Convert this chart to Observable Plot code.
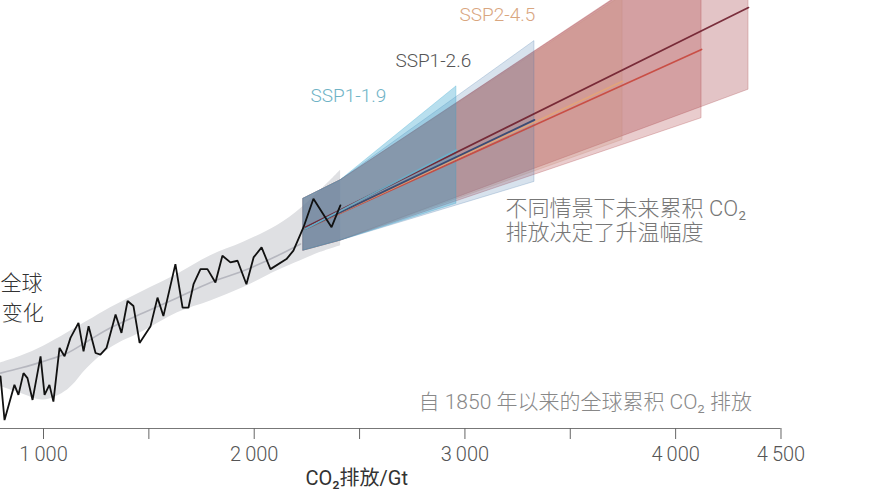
<!DOCTYPE html>
<html><head><meta charset="utf-8">
<script src="https://cdn.jsdelivr.net/npm/d3@7"></script>
<script src="https://cdn.jsdelivr.net/npm/@observablehq/plot@0.6"></script>
<style>
html,body{margin:0;padding:0;background:#fff;overflow:hidden;}
</style>
</head><body>
<div id="chart"></div>
<script>
// ---- historical annual global temperature change vs cumulative CO2 (Gt, °C)
const histX = [796, 815, 862, 881, 905, 924, 948, 986, 1005, 1028, 1047, 1076, 1100, 1128, 1166, 1190, 1214, 1247, 1270, 1299, 1342, 1370, 1399, 1427, 1456, 1508, 1541, 1569, 1626, 1660, 1688, 1712, 1745, 1778, 1816, 1849, 1887, 1921, 1963, 1997, 2035, 2077, 2153, 2186, 2234, 2281, 2367, 2409];
const histT = [0.20, -0.06, 0.15, 0.09, 0.22, 0.19, 0.06, 0.32, 0.09, 0.15, 0.05, 0.37, 0.32, 0.43, 0.52, 0.35, 0.50, 0.34, 0.33, 0.37, 0.57, 0.46, 0.65, 0.62, 0.40, 0.50, 0.67, 0.56, 0.87, 0.61, 0.61, 0.75, 0.84, 0.84, 0.76, 0.92, 0.88, 0.89, 0.75, 0.91, 0.97, 0.84, 0.90, 0.95, 1.09, 1.26, 1.09, 1.22];

// ---- historical smoothed estimate and uncertainty band
const bandX   = [796, 891, 1000, 1114, 1209, 1318, 1475, 1636, 1793, 1949, 2110, 2220, 2315, 2410];
const bandLo  = [0.14, 0.10, 0.06, 0.12, 0.25, 0.37, 0.47, 0.58, 0.65, 0.73, 0.83, 0.89, 0.94, 0.98];
const bandHi  = [0.28, 0.32, 0.38, 0.46, 0.53, 0.61, 0.71, 0.81, 0.92, 1.00, 1.10, 1.20, 1.31, 1.43];
const midX    = [796, 891, 1000, 1114, 1209, 1318, 1475, 1636, 1793, 1949, 2110, 2220];
const midT    = [0.22, 0.25, 0.29, 0.34, 0.41, 0.49, 0.58, 0.67, 0.76, 0.83, 0.92, 0.99];

// ---- scenarios (drawing order: widest first)
const scenarios   = ["SSP5-8.5", "SSP3-7.0", "SSP2-4.5", "SSP1-2.6", "SSP1-1.9"];
const projX       = [2234, 2410];          // common start of the ranges
const projLo      = [0.95, 1.01];
const projHi      = [1.26, 1.37];
const endX        = [4346, 4123, 3748, 3330, 2960];
const endLo       = [1.91, 1.74, 1.61, 1.36, 1.23];
const endHi       = [2.98, 2.80, 2.47, 2.20, 1.93];
const lineStartX  = 2243;
const lineStartT  = [1.09, 1.08, 1.08, 1.08, 1.08];
const lineEndT    = [2.40, 2.15, 1.96, 1.73, 1.55];

// ---- axis
const tickValues = [1000, 1500, 2000, 2500, 3000, 3500, 4000, 4500];
const tickLabels = {1000: "1\u2009000", 2000: "2\u2009000", 3000: "3\u2009000", 4000: "4\u2009000", 4500: "4\u2009500"};

// ---- styles
const bandFill  = ["#a23a41", "#a73436", "#c98a78", "#4a7aab", "#2fa2cc"];
const bandAlpha = [0.30, 0.25, 0.25, 0.22, 0.34];
const lineColor = ["#6e1e2c", "#c8463c", "#e3a577", "#2f4470", "#6cb2cc"];
const font = "Roboto, 'Noto Sans CJK SC', 'Noto Sans', sans-serif";

const xMin = 795.9, xMax = 4924.8, yMin = -0.1103, yMax = 2.4419;

const hist = histX.map((x, i) => ({x, t: histT[i]}));
const band = bandX.map((x, i) => ({x, lo: bandLo[i], hi: bandHi[i]}));
const mid  = midX.map((x, i) => ({x, t: midT[i]}));

const bandMarks = scenarios.map((s, i) => Plot.areaY(
  [...projX.map((x, j) => ({x, lo: projLo[j], hi: projHi[j]})), {x: endX[i], lo: endLo[i], hi: endHi[i]}],
  {x: "x", y1: "lo", y2: "hi", fill: bandFill[i], fillOpacity: bandAlpha[i],
   stroke: bandFill[i], strokeOpacity: 0.25, strokeWidth: 1, clip: true}));
const lineMarks = scenarios.map((s, i) => Plot.line(
  [{x: lineStartX, t: lineStartT[i]}, {x: endX[i], t: lineEndT[i]}],
  {x: "x", y: "t", stroke: lineColor[i], strokeWidth: 1.7, strokeOpacity: 0.9, clip: true}));

const txt = (text, x, y, o) => Plot.text([text], {x: () => x, y: () => y, text: d => d,
  fontFamily: font, fontWeight: 300, lineAnchor: "middle", ...o});

const chart = Plot.plot({
  width: 870, height: 492,
  marginTop: 0, marginRight: 0, marginBottom: 64, marginLeft: 0,
  x: {domain: [xMin, xMax]},
  y: {domain: [yMin, yMax], axis: null},
  style: {background: "#fff", overflow: "hidden"},
  marks: [
    Plot.areaY(band, {x: "x", y1: "lo", y2: "hi", fill: "#dfe0e3", curve: "catmull-rom"}),
    Plot.line(mid, {x: "x", y: "t", stroke: "#b6b7bf", strokeWidth: 1.6, curve: "catmull-rom"}),
    ...bandMarks,
    ...lineMarks,
    Plot.line(hist, {x: "x", y: "t", stroke: "#111", strokeWidth: 1.8, strokeLinejoin: "miter"}),
    Plot.ruleY([yMin], {x1: xMin, x2: 4500, stroke: "#777", strokeWidth: 1.2}),
    Plot.axisX({ticks: tickValues, tickSize: 11, tickPadding: 7, stroke: "#666", fill: "#555",
      tickFormat: d => tickLabels[d] ?? "", fontSize: 20, fontFamily: font, fontWeight: 300, label: null}),
    txt("SSP2-4.5", 2974, 2.358, {textAnchor: "start", fontSize: 19, fill: "#d9a67f"}),
    txt("SSP1-2.6", 2670, 2.084, {textAnchor: "start", fontSize: 19, fill: "#555"}),
    txt("SSP1-1.9", 2267, 1.875, {textAnchor: "start", fontSize: 19, fill: "#6fb3c6"}),
    txt("不同情景下未来累积 CO₂\n排放决定了升温幅度", 3193, 1.130, {textAnchor: "start", fontSize: 22, lineHeight: 1.09, fill: "#777"}),
    txt("自 1850 年以来的全球累积 CO₂ 排放", 2780, 0.045, {textAnchor: "start", fontSize: 21, fill: "#888"}),
    txt("CO₂排放/Gt", 2243, -0.41, {textAnchor: "start", fontSize: 20, fill: "#333", fontWeight: 400}),
    txt("全球", 995, 0.754, {textAnchor: "end", fontSize: 21, fill: "#333", fontWeight: 300}),
    txt("变化", 802, 0.575, {textAnchor: "start", fontSize: 21, fill: "#333", fontWeight: 300})
  ]
});
document.getElementById("chart").appendChild(chart);
</script>
</body></html>
